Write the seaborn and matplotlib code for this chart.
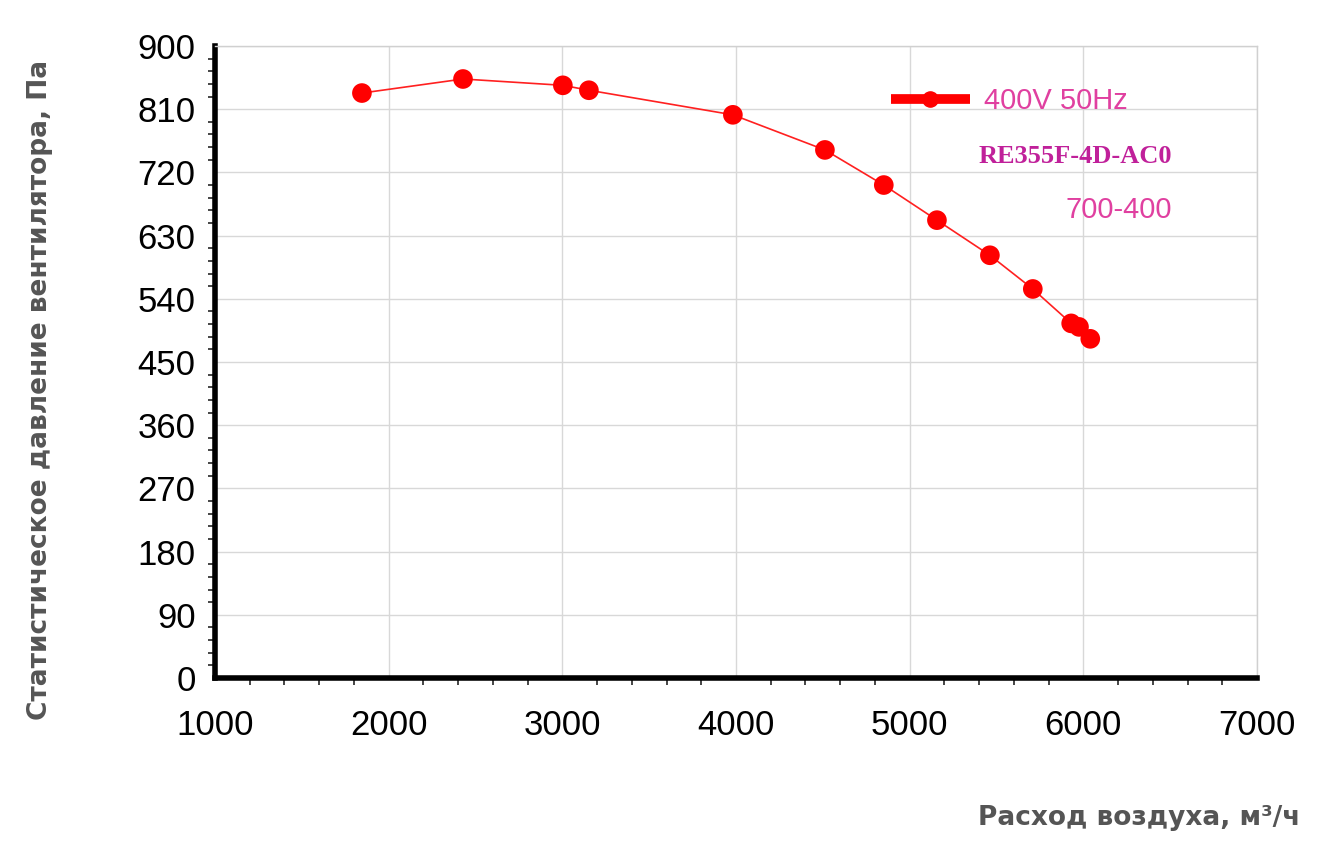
import matplotlib
matplotlib.use("Agg")
import matplotlib.pyplot as plt
import seaborn as sns
import pandas as pd
from matplotlib.ticker import MultipleLocator

# данные
flow = [1846, 2428, 3003, 3153, 3982, 4512, 4851, 5157, 5462, 5709, 5930, 5975, 6040]
pressure = [833, 853, 844, 837, 802, 752, 702, 652, 602, 554, 505, 500, 483]
df = pd.DataFrame({"flow": flow, "pressure": pressure})

sns.set_theme(style="white")
plt.rcParams['font.family'] = ['Liberation Sans', 'DejaVu Sans']

fig = plt.figure(figsize=(13.33, 8.43), dpi=100)
ax = fig.add_axes([215/1333, 1-678/843, (1257-215)/1333, (678-46)/843])

sns.lineplot(data=df, x="flow", y="pressure", ax=ax, color="#ff2020", linewidth=1.2)
sns.scatterplot(data=df, x="flow", y="pressure", ax=ax, color="#ff0000", s=200,
                edgecolor="none", zorder=3)

ax.set_xlim(1000, 7000)
ax.set_ylim(0, 900)
ax.xaxis.set_major_locator(MultipleLocator(1000))
ax.xaxis.set_minor_locator(MultipleLocator(200))
ax.yaxis.set_major_locator(MultipleLocator(90))
ax.yaxis.set_minor_locator(MultipleLocator(18))
ax.grid(True, which="major", color="#d8d8d8", linewidth=1)
ax.tick_params(which="major", direction="out", length=8, width=1.5, labelsize=25,
               pad=6, labelcolor="black")
ax.tick_params(which="minor", direction="out", length=5, width=1.2, left=True, bottom=True)
ax.tick_params(axis="x", pad=14)
for s in ["left", "bottom"]:
    ax.spines[s].set_color("black")
    ax.spines[s].set_linewidth(4)
for s in ["top", "right"]:
    ax.spines[s].set_color("#d0d0d0")
    ax.spines[s].set_linewidth(1)
ax.set_xlabel("")
ax.set_ylabel("")

fig.text(0.03, 1-390/843, "Статистическое давление вентилятора, Па", rotation=90,
         ha="center", va="center", fontsize=19, fontweight="bold", color="#555555",
         family="DejaVu Sans")
fig.text(1300/1333, 1-818/843, "Расход воздуха, м³/ч", ha="right", va="center",
         fontsize=19, fontweight="bold", color="#555555", family="DejaVu Sans")

# легенда
ax.plot([4890, 5345], [824, 824], color="#ff0000", linewidth=7, solid_capstyle="butt")
ax.scatter([5118], [824], color="#ff0000", s=120, zorder=4)
ax.text(5430, 822, "400V 50Hz", color="#e040a0", fontsize=21, va="center")
ax.text(6510, 742, "RE355F-4D-AC0", color="#c0209a", fontsize=19, va="center",
        ha="right", fontweight="bold", family="Liberation Serif")
ax.text(6510, 666, "700-400", color="#e040a0", fontsize=21, va="center", ha="right")

fig.savefig("out.png", dpi=100)
